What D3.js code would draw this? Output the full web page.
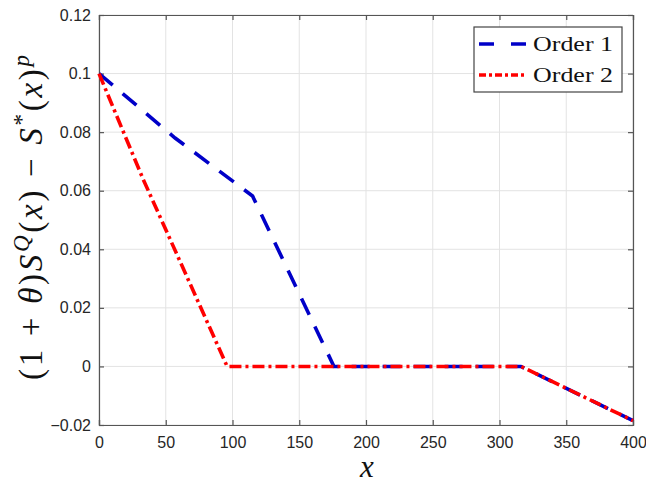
<!DOCTYPE html>
<html>
<head>
<meta charset="utf-8">
<script src="https://cdn.jsdelivr.net/npm/d3@7"></script>
<style>
  body { margin: 0; background: #fff; }
</style>
</head>
<body>
<div id="chart"></div>
<script>
// data
var order1X = [0, 57, 115, 176, 316, 400];
var order1Y = [0.1, 0.078, 0.0582, 0, 0, -0.0185];
var order2X = [0, 33, 96, 316, 400];
var order2Y = [0.1, 0.064, 0, 0, -0.0185];
var seriesNames = ["Order 1", "Order 2"];
var xTicks = [0, 50, 100, 150, 200, 250, 300, 350, 400];
var yTicks = [-0.02, 0, 0.02, 0.04, 0.06, 0.08, 0.1, 0.12];

var width = 646, height = 485;
var padding = { top: 15, right: 13, bottom: 60, left: 99 };
var innerW = width - padding.left - padding.right;
var innerH = height - padding.top - padding.bottom;

var svg = d3.select("#chart").append("svg")
    .attr("width", width)
    .attr("height", height);

var xScale = d3.scaleLinear().domain([0, 400]).range([0, innerW]);
var yScale = d3.scaleLinear().domain([-0.02, 0.12]).range([innerH, 0]);

var g = svg.append("g")
    .attr("transform", "translate(" + padding.left + "," + padding.top + ")");

// grid
g.append("g").selectAll("line").data(xTicks).enter().append("line")
    .attr("x1", function(d) { return xScale(d); })
    .attr("x2", function(d) { return xScale(d); })
    .attr("y1", 0).attr("y2", innerH)
    .attr("stroke", "#e3e3e3").attr("stroke-width", 1);
g.append("g").selectAll("line").data(yTicks).enter().append("line")
    .attr("y1", function(d) { return yScale(d); })
    .attr("y2", function(d) { return yScale(d); })
    .attr("x1", 0).attr("x2", innerW)
    .attr("stroke", "#e3e3e3").attr("stroke-width", 1);

// axes
var fmtY = function(d) { return d === 0 ? "0" : d3.format("")(+d.toFixed(2)); };
var xAxis = d3.axisBottom(xScale).tickValues(xTicks).tickSize(-5).tickPadding(12);
var yAxis = d3.axisLeft(yScale).tickValues(yTicks).tickSize(-5).tickPadding(8).tickFormat(fmtY);
var xTop = d3.axisTop(xScale).tickValues(xTicks).tickSize(-5).tickFormat("");
var yRight = d3.axisRight(yScale).tickValues(yTicks).tickSize(-5).tickFormat("");

g.append("g").attr("class", "axis").attr("transform", "translate(0," + innerH + ")").call(xAxis);
g.append("g").attr("class", "axis").call(yAxis);
g.append("g").attr("class", "axis").call(xTop);
g.append("g").attr("class", "axis").attr("transform", "translate(" + innerW + ",0)").call(yRight);

svg.selectAll(".axis path, .axis line").attr("stroke", "#555").attr("stroke-width", 1.2);
svg.selectAll(".axis text")
    .attr("fill", "#262626")
    .style("font-family", "'Liberation Sans', Arial, sans-serif")
    .style("font-size", "16px");

// lines
var line = d3.line()
    .x(function(d) { return xScale(d[0]); })
    .y(function(d) { return yScale(d[1]); });

var pts1 = d3.zip(order1X, order1Y);
var pts2 = d3.zip(order2X, order2Y);

g.append("path").datum(pts1)
    .attr("d", line)
    .attr("fill", "none")
    .attr("stroke", "#0000c8")
    .attr("stroke-width", 3.6)
    .attr("stroke-dasharray", "18,13");

g.append("path").datum(pts2)
    .attr("d", line)
    .attr("fill", "none")
    .attr("stroke", "#ff0000")
    .attr("stroke-width", 3.6)
    .attr("stroke-dasharray", "12,4,3,4");

// legend
var leg = svg.append("g").attr("transform", "translate(474,27)");
leg.append("rect")
    .attr("width", 148).attr("height", 65)
    .attr("fill", "#fff").attr("stroke", "#444").attr("stroke-width", 1.2);
var legStyles = [
    { color: "#0000c8", dash: "15,17" },
    { color: "#ff0000", dash: "7,3,3,3" }
];
seriesNames.forEach(function(name, i) {
    var yy = 17 + i * 31;
    leg.append("line")
        .attr("x1", 5).attr("x2", 52)
        .attr("y1", yy).attr("y2", yy)
        .attr("stroke", legStyles[i].color)
        .attr("stroke-width", 3.6)
        .attr("stroke-dasharray", legStyles[i].dash);
    leg.append("text")
        .attr("x", 59).attr("y", yy + 7)
        .attr("textLength", 80)
        .attr("lengthAdjust", "spacingAndGlyphs")
        .style("font-family", "'Liberation Serif', 'Times New Roman', serif")
        .style("font-size", "22px")
        .attr("fill", "#111")
        .text(name);
});

// axis labels
svg.append("text")
    .attr("x", 367).attr("y", 477)
    .attr("text-anchor", "middle")
    .style("font-family", "'Liberation Serif', serif")
    .style("font-style", "italic")
    .style("font-size", "31px")
    .attr("fill", "#111")
    .text("x");

var yl = svg.append("text")
    .attr("transform", "translate(42,55) rotate(-90)")
    .attr("x", -325)
    .attr("textLength", 325)
    .attr("lengthAdjust", "spacing")
    .style("font-family", "'Liberation Serif', serif")
    .style("font-size", "33px")
    .attr("fill", "#111");
var parts = [
    ["(1 + ", false, 0], ["θ", true, 0], [")", false, 0],
    ["S", true, 0], ["Q", true, 1], ["(", false, -1], ["x", true, 0], [") − ", false, 0],
    ["S", true, 0], ["*", false, 1], ["(", false, -1], ["x", true, 0], [")", false, 0],
    ["p", true, 1]
];
parts.forEach(function(p) {
    var t = yl.append("tspan").text(p[0]);
    if (p[1]) t.style("font-style", "italic");
    if (p[2] === 1) t.attr("dy", -13).style("font-size", "23px");
    if (p[2] === -1) t.attr("dy", 13);
});
</script>
</body>
</html>
